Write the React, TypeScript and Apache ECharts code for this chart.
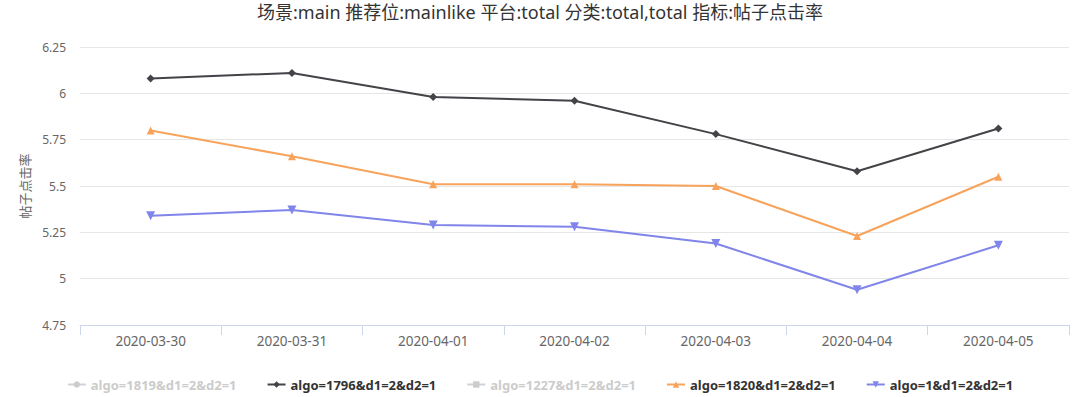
import React, { useEffect, useRef } from "react";
import * as echarts from "echarts";

const categories = ["2020-03-30", "2020-03-31", "2020-04-01", "2020-04-02", "2020-04-03", "2020-04-04", "2020-04-05"];
const seriesNames = ["algo=1819&d1=2&d2=1", "algo=1796&d1=2&d2=1", "algo=1227&d1=2&d2=1", "algo=1820&d1=2&d2=1", "algo=1&d1=2&d2=1"];
const algo1819: number[] = [];
const algo1796 = [6.08, 6.11, 5.98, 5.96, 5.78, 5.58, 5.81];
const algo1227: number[] = [];
const algo1820 = [5.80, 5.66, 5.51, 5.51, 5.50, 5.23, 5.55];
const algo1 = [5.34, 5.37, 5.29, 5.28, 5.19, 4.94, 5.18];
const yTicks = { min: 4.75, max: 6.25, interval: 0.25 };

const FONT = '"Noto Sans", "Noto Sans CJK SC", sans-serif';

export default function App() {
  const ref = useRef<HTMLDivElement>(null);
  useEffect(() => {
    const chart = echarts.init(ref.current!, null, { renderer: "svg" });
    const colors = ["#7cb5ec", "#434348", "#90ed7d", "#f7a35c", "#8085e9"];
    const symbols = ["circle", "diamond", "rect", "triangle", "path://M0,0 L10,0 L5,9 Z"];
    const datas = [algo1819, algo1796, algo1227, algo1820, algo1];
    chart.setOption({
      animation: false,
      color: colors,
      textStyle: { fontFamily: FONT },
      title: {
        text: "场景:main 推荐位:mainlike 平台:total 分类:total,total 指标:帖子点击率",
        left: "center",
        top: -2,
        textStyle: { fontSize: 18, fontWeight: "normal", color: "#333333", fontFamily: FONT },
      },
      legend: {
        bottom: 1,
        left: "center",
        itemGap: 30,
        itemWidth: 18,
        itemHeight: 8,
        textStyle: { fontSize: 13, fontWeight: "bold", color: "#333333", fontFamily: FONT },
        inactiveColor: "#cccccc",
        data: seriesNames,
        selected: {
          [seriesNames[0]]: false,
          [seriesNames[2]]: false,
        },
      },
      grid: { left: 80, right: 11, top: 47, bottom: 72 },
      xAxis: {
        type: "category",
        data: categories,
        boundaryGap: true,
        axisLine: { lineStyle: { color: "#ccd6eb" } },
        axisTick: { show: true, length: 10, lineStyle: { color: "#ccd6eb" } },
        axisLabel: { color: "#666666", fontSize: 13.5, margin: 9, fontFamily: FONT },
      },
      yAxis: {
        type: "value",
        min: yTicks.min,
        max: yTicks.max,
        interval: yTicks.interval,
        name: "帖子点击率",
        nameLocation: "middle",
        nameGap: 38,
        nameRotate: 90,
        nameTextStyle: { color: "#666666", fontSize: 13, fontFamily: FONT },
        axisLine: { show: false },
        axisTick: { show: false },
        axisLabel: { color: "#666666", fontSize: 12, margin: 14, fontFamily: FONT },
        splitLine: { lineStyle: { color: "#e6e6e6" } },
      },
      series: seriesNames.map((n, i) => ({
        name: n,
        type: "line",
        data: datas[i],
        symbol: symbols[i],
        symbolSize: i === 4 ? 9 : 8,
        showAllSymbol: true,
        lineStyle: { width: 2, color: colors[i] },
        itemStyle: { color: colors[i] },
      })),
    });
    return () => chart.dispose();
  }, []);
  return <div ref={ref} style={{ position: "absolute", left: 0, top: 0, width: 1080, height: 397 }} />;
}
